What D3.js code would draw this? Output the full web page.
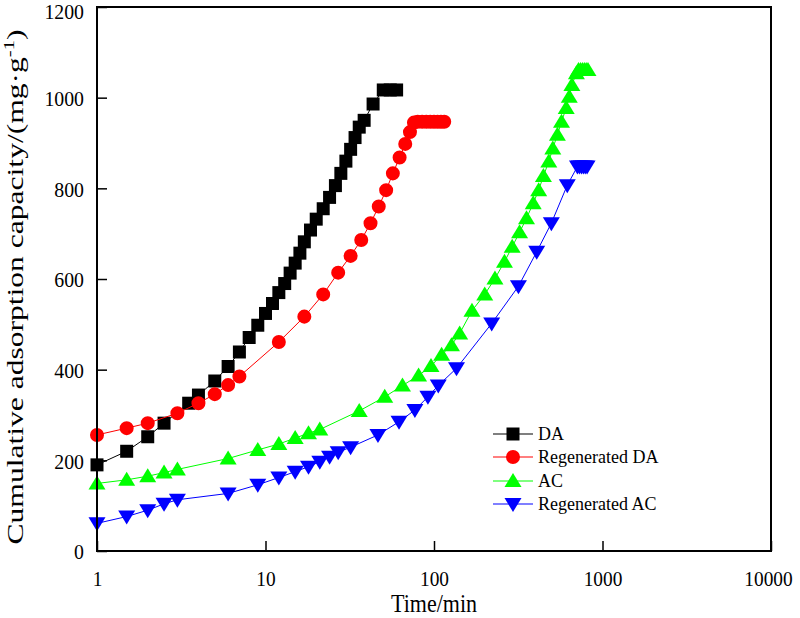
<!DOCTYPE html>
<html>
<head>
<meta charset="utf-8">
<script src="https://cdn.jsdelivr.net/npm/d3@7/dist/d3.min.js"></script>
<style>
  html, body { margin: 0; padding: 0; background: #fff; }
  svg { display: block; }
  text { font-family: "Liberation Serif", "Times New Roman", serif; fill: #000; }
</style>
</head>
<body>
<svg id="chart" width="800" height="618"></svg>
<script>
// ---- data ----
const daTime  = [1,1.5,2,2.5,3.5,4,5,6,7,8,9,10,11,12,13,14,15,16,17,18.5,20,22,24,26,28,30,32,34,36,38.5,43.5,50,55,60];
const daValue = [190,220,252,282,326,344,375,407,439,471,498,524,546,570,590,613,635,657,682,708,732,755,780,806,833,860,886,912,935,950,986,1017,1017,1017];

const rdaTime  = [1,1.5,2,3,4,5,6,7,12,17,22,27,32,37,42,47,52,57,62.5,67.5,72,76,80,85,90,95,100,105,110,115];
const rdaValue = [256,271,282,304,326,346,366,385,461,517,566,614,651,686,723,760,796,833,868,898,924,945,947,947,947,947,947,947,947,947];

const acTime  = [1,1.5,2,2.5,3,6,9,12,15,18,21,36,51,65,81,96,111,127,142,168,200,230,262,291,322,354,388,418,446,480,507,540,571,609,635,658,700,720,740,760,780,800,820];
const acValue = [149,157,165,173,180,204,223,236,249,260,268,309,340,365,387,408,433,454,480,530,566,601,638,671,703,734,767,796,827,859,888,918,947,977,1002,1028,1054,1061,1061,1061,1061,1061,1061];

const racTime  = [1,1.5,2,2.5,3,6,9,12,15,18,21,24,27,32,46.5,62,77,92,106,136,220,317,407,497,618,710,730,750,770,790,810];
const racValue = [61,76,90,104,113,127,146,162,175,186,197,208,218,229,256,285,311,340,365,403,502,584,660,723,807,848,848,848,848,848,848];

const seriesNames  = ["DA","Regenerated DA","AC","Regenerated AC"];
const seriesColors = ["#000000","#ff0000","#00ff00","#0000ff"];
const seriesShapes = ["square","circle","triangleUp","triangleDown"];
const seriesTimes  = [daTime, rdaTime, acTime, racTime];
const seriesValues = [daValue, rdaValue, acValue, racValue];

const xTicks = [1,10,100,1000,10000];
const yTicks = [0,200,400,600,800,1000,1200];
const xLabel = "Time/min";
const yLabelMain = "Cumulative adsorption capacity/(mg·g";
const yLabelSup = "-1";
const yLabelEnd = ")";

// ---- layout ----
const svg = d3.select("#chart");
const L = 97, R = 771, T = 7, B = 551;
const x = d3.scaleLog().domain([1,10000]).range([L,R]);
const y = d3.scaleLinear().domain([0,1200]).range([B,T]);

function markerPath(shape){
  switch(shape){
    case "square": return "M-6.5,-6.5H6.5V6.5H-6.5Z";
    case "circle": return d3.symbol(d3.symbolCircle, 154)();
    case "triangleUp": return "M0,-8L8.5,6L-8.5,6Z";
    case "triangleDown": return "M0,8L8.5,-6L-8.5,-6Z";
  }
}
// narrow a text horizontally (reference glyphs are taller than wide)
function condense(sel, k){
  sel.each(function(){
    const len = this.getComputedTextLength();
    d3.select(this).attr("textLength", len*k).attr("lengthAdjust","spacingAndGlyphs");
  });
}

// series
seriesNames.forEach((name,i)=>{
  const pts = seriesTimes[i].map((t,j)=>[t, seriesValues[i][j]]);
  const g = svg.append("g");
  g.append("path")
    .attr("d", d3.line().x(d=>x(d[0])).y(d=>y(d[1]))(pts))
    .attr("fill","none").attr("stroke",seriesColors[i]).attr("stroke-width",1);
  g.selectAll("path.m").data(pts).enter().append("path").attr("class","m")
    .attr("d", markerPath(seriesShapes[i]))
    .attr("transform", d=>`translate(${x(d[0])},${y(d[1])})`)
    .attr("fill",seriesColors[i]);
});

// axes (inward ticks) + frame
const xAxis = d3.axisBottom(x).tickValues(xTicks).tickFormat(d3.format("d")).tickSizeInner(-10).tickSizeOuter(0).tickPadding(19);
const yAxis = d3.axisLeft(y).tickValues(yTicks).tickFormat(d3.format("d")).tickSizeInner(-10).tickSizeOuter(0).tickPadding(13);
const gx = svg.append("g").attr("transform",`translate(0,${B})`).call(xAxis);
const gy = svg.append("g").attr("transform",`translate(${L},0)`).call(yAxis);
[gx,gy].forEach(g=>{
  g.select(".domain").remove();
  g.selectAll(".tick line").attr("stroke","#000").attr("stroke-width",1.5);
  g.selectAll(".tick text").attr("font-size",22).attr("fill","#000")
    .style("font-family",'"Liberation Serif", serif');
});
gy.selectAll(".tick text").attr("dy","0.36em");
gy.selectAll(".tick").filter(d=>d===1200).select("text").attr("dy","0.5em");
gx.selectAll(".tick").filter(d=>d===10000).select("text").attr("dx","-3");
condense(gx.selectAll(".tick text"), 0.88);
condense(gy.selectAll(".tick text"), 0.9);
svg.append("rect").attr("x",L).attr("y",T).attr("width",R-L).attr("height",B-T)
  .attr("fill","none").attr("stroke","#000").attr("stroke-width",2);

// axis titles
const xt = svg.append("text").attr("x",(L+R)/2).attr("y",612).attr("text-anchor","middle")
  .attr("font-size",25).text(xLabel);
condense(xt, 0.88);
const yl = svg.append("text").attr("transform",`translate(23,287) rotate(-90)`)
  .attr("text-anchor","middle").attr("font-size",23)
  .attr("textLength",515).attr("lengthAdjust","spacingAndGlyphs");
yl.append("tspan").text(yLabelMain);
yl.append("tspan").attr("font-size",15).attr("dy",-9).text(yLabelSup);
yl.append("tspan").attr("dy",9).text(yLabelEnd);

// legend
const lg = svg.append("g");
const rowY = [434,457,481,504];
seriesNames.forEach((name,i)=>{
  const r = lg.append("g").attr("transform",`translate(0,${rowY[i]})`);
  r.append("line").attr("x1",493).attr("x2",533).attr("y1",0).attr("y2",0)
    .attr("stroke",seriesColors[i]).attr("stroke-width",1.2);
  r.append("path").attr("d",markerPath(seriesShapes[i])).attr("transform","translate(513,0)")
    .attr("fill",seriesColors[i]);
  r.append("text").attr("x",538).attr("y",6).attr("font-size",18).text(name);
});
</script>
</body>
</html>
